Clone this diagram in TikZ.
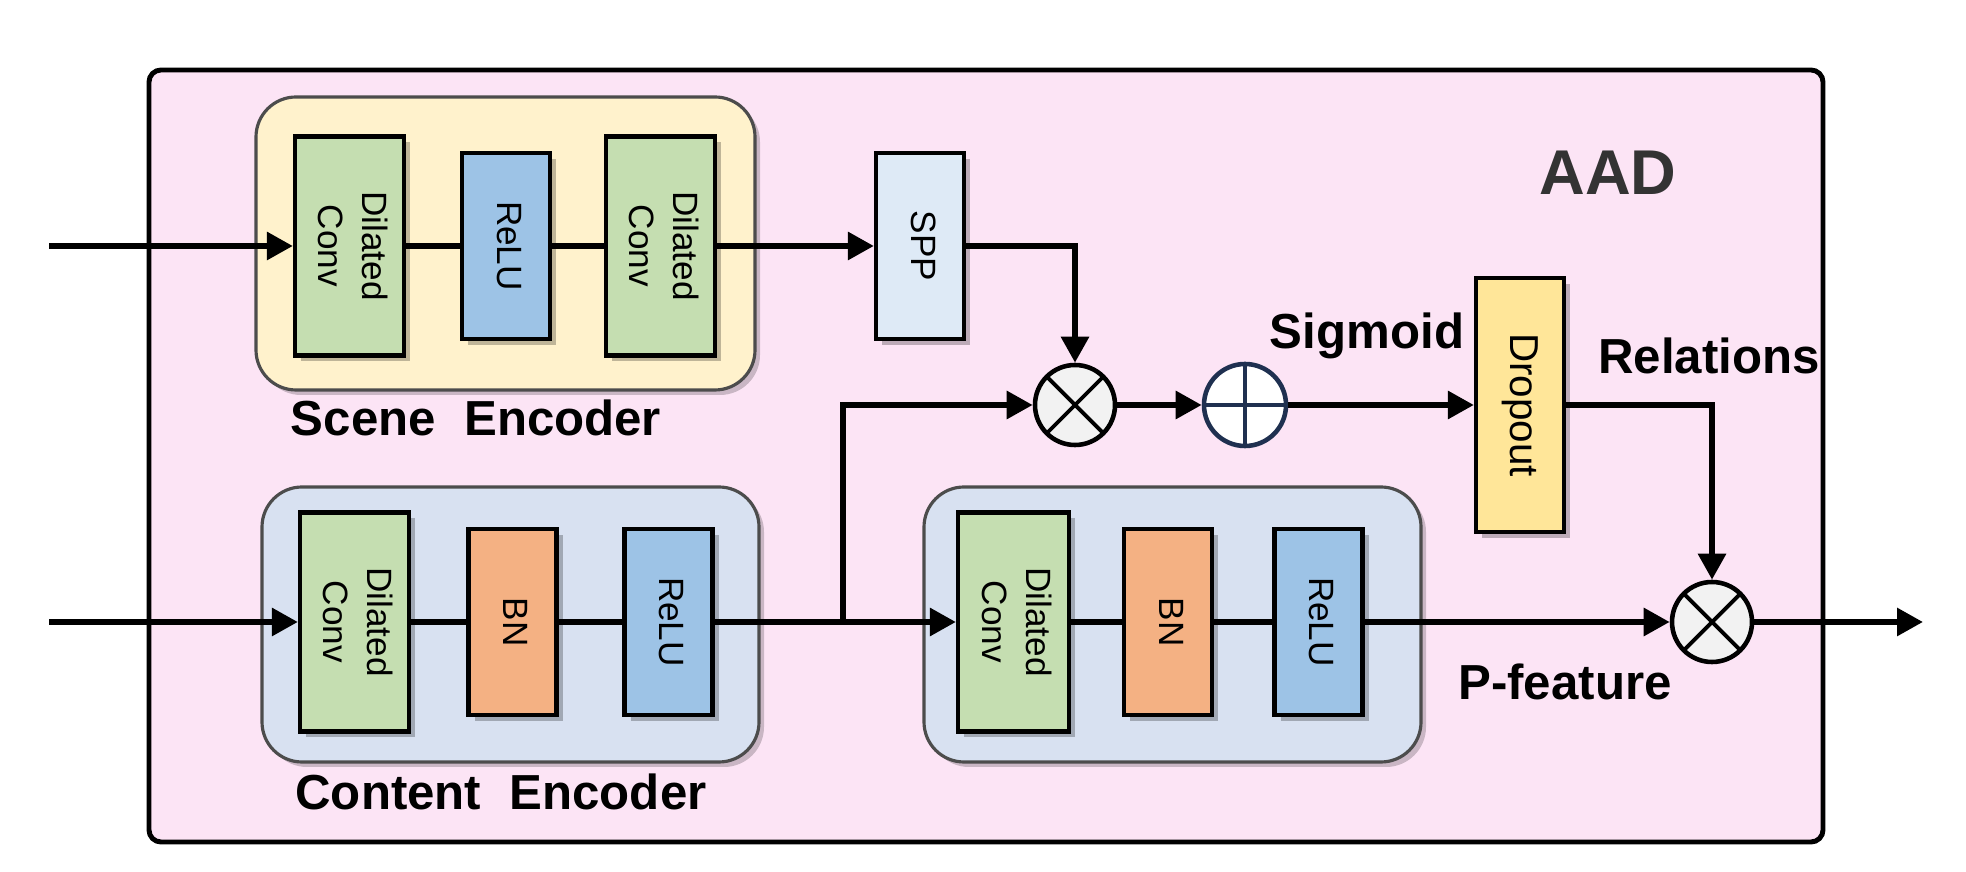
\documentclass[tikz,border=0pt]{standalone}
\usepackage{fontspec}
\setmainfont{Liberation Sans}
\usepackage{xcolor}
\usetikzlibrary{arrows.meta, positioning, shadows}

\definecolor{aadpink}{HTML}{FCE4F5}
\definecolor{scenefill}{HTML}{FFF2CC}
\definecolor{contentfill}{HTML}{D8E1F1}
\definecolor{convgreen}{HTML}{C5DEB1}
\definecolor{relublue}{HTML}{9DC3E6}
\definecolor{bnorange}{HTML}{F4B183}
\definecolor{sppblue}{HTML}{DEEAF6}
\definecolor{dropyellow}{HTML}{FFE699}
\definecolor{opgray}{HTML}{F2F2F2}
\definecolor{plusnavy}{HTML}{1F3050}

\newcommand\sidetext[1]{\rotatebox{-90}{\begin{tabular}{@{}c@{}}#1\end{tabular}}}

\tikzset{
    aadframe/.style={draw=black, line width=1.4pt, rounded corners=0.12cm, fill=aadpink,
        inner sep=0pt, minimum width=16.74cm, minimum height=7.72cm},
    encbox/.style={draw=black!70, line width=0.9pt, rounded corners=0.4cm, inner sep=0pt,
        minimum width=4.97cm, minimum height=2.75cm,
        drop shadow={shadow xshift=0.05cm, shadow yshift=-0.05cm, fill=black, opacity=0.2}},
    blk/.style={draw=black, line width=1.2pt, inner sep=0pt, minimum width=0.88cm,
        minimum height=1.86cm, font=\fontsize{10}{12.5}\selectfont,
        drop shadow={shadow xshift=0.06cm, shadow yshift=-0.06cm, fill=black, opacity=0.25}},
    convblk/.style={blk, fill=convgreen, minimum width=1.09cm, minimum height=2.19cm},
    mulop/.style={circle, draw=black, line width=1.3pt, fill=opgray, inner sep=0pt,
        minimum size=0.80cm,
        path picture={\draw[line width=1.1pt]
            (path picture bounding box.north east) -- (path picture bounding box.south west)
            (path picture bounding box.north west) -- (path picture bounding box.south east);}},
    plusop/.style={circle, draw=plusnavy, line width=1.3pt, fill=white, inner sep=0pt,
        minimum size=0.82cm,
        path picture={\draw[plusnavy, line width=1.1pt]
            (path picture bounding box.north) -- (path picture bounding box.south)
            (path picture bounding box.west) -- (path picture bounding box.east);}},
    lbl/.style={font=\fontsize{14}{16}\selectfont\bfseries},
    link/.style={line width=1.7pt},
    flow/.style={line width=1.7pt, -{Triangle[length=2.6mm, width=2.7mm]}},
}

\begin{document}
\begin{tikzpicture}
    \useasboundingbox (0,0) rectangle (19.66,8.72);

    % AAD frame
    \node[aadframe] (aad) at (9.86,4.16) {};
    \node[font=\fontsize{18}{20}\selectfont\bfseries, text=black!80] (aadlbl) at (16.08,6.99) {AAD};

    % Scene Encoder
    \node[encbox, fill=scenefill, minimum width=4.99cm, minimum height=2.93cm] (scene) at (5.055,6.285) {};
    \node[convblk] (sconv1) at (3.495,6.26) {\sidetext{Dilated\\Conv}};
    \node[blk, fill=relublue] (srelu) at (5.06,6.26) {\sidetext{ReLU}};
    \node[convblk] (sconv2) at (6.605,6.26) {\sidetext{Dilated\\Conv}};
    \node[lbl] (scenelbl) at (4.76,4.54) {Scene\hspace{0.3em} Encoder};

    % SPP
    \node[blk, fill=sppblue] (spp) at (9.20,6.26) {\sidetext{SPP}};

    % Content Encoder
    \node[encbox, fill=contentfill] (content) at (5.105,2.475) {};
    \node[convblk] (cconv) at (3.545,2.50) {\sidetext{Dilated\\Conv}};
    \node[blk, fill=bnorange] (cbn) at (5.125,2.50) {\sidetext{BN}};
    \node[blk, fill=relublue] (crelu) at (6.685,2.50) {\sidetext{ReLU}};
    \node[lbl] (contentlbl) at (5.01,0.80) {Content\hspace{0.3em} Encoder};

    % Second block row
    \node[encbox, fill=contentfill] (refine) at (11.725,2.475) {};
    \node[convblk, minimum width=1.11cm] (rconv) at (10.135,2.50) {\sidetext{Dilated\\Conv}};
    \node[blk, fill=bnorange] (rbn) at (11.68,2.50) {\sidetext{BN}};
    \node[blk, fill=relublue] (rrelu) at (13.185,2.50) {\sidetext{ReLU}};

    % Fusion
    \node[mulop] (mulA) at (10.75,4.67) {};
    \node[plusop] (plus) at (12.45,4.67) {};
    \node[blk, fill=dropyellow, minimum height=2.54cm, font=\fontsize{11.5}{13}\selectfont] (drop) at (15.20,4.67) {\sidetext{Dropout}};
    \node[mulop] (mulB) at (17.12,2.50) {};

    \node[lbl] (sigmoidlbl) at (13.67,5.36) {Sigmoid};
    \node[lbl] (relationslbl) at (17.09,5.16) {Relations};
    \node[lbl] (pfeaturelbl) at (15.65,1.90) {P-feature};

    % Free ends
    \coordinate (inS) at (0.49,6.26);
    \coordinate (inC) at (0.49,2.50);
    \coordinate (split) at (8.43,2.50);
    \coordinate (out) at (19.23,2.50);

    % Scene path
    \draw[flow] (inS) -- (sconv1.west);
    \draw[link] (sconv1) -- (srelu) -- (sconv2);
    \draw[flow] (sconv2) -- (spp);
    \draw[flow] (spp.east) -| (mulA.north);

    % Content path
    \draw[flow] (inC) -- (cconv.west);
    \draw[link] (cconv) -- (cbn) -- (crelu);
    \draw[link] (crelu) -- (split);
    \draw[flow] (split) -- (rconv.west);
    \draw[flow] (split) |- (mulA.west);
    \draw[link] (rconv) -- (rbn) -- (rrelu);
    \draw[flow] (rrelu) -- (mulB);

    % Fusion path
    \draw[flow] (mulA) -- (plus);
    \draw[flow] (plus) -- (drop);
    \draw[flow] (drop.east) -| (mulB.north);
    \draw[flow] (mulB) -- (out);
\end{tikzpicture}
\end{document}
